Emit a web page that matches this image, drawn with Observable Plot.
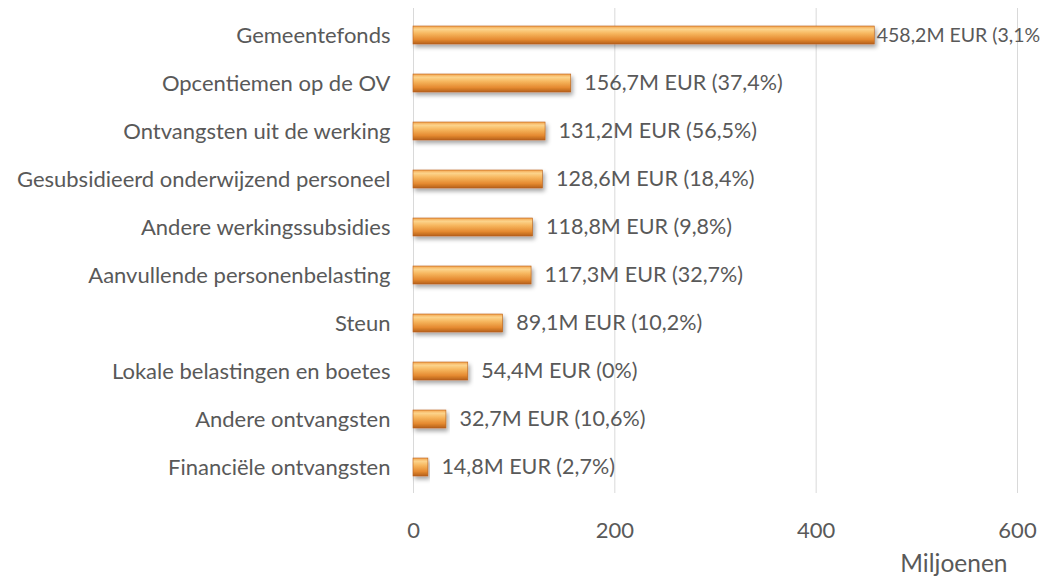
<!DOCTYPE html>
<html>
<head>
<meta charset="utf-8">
<script src="https://cdn.jsdelivr.net/npm/d3@7"></script>
<script src="https://cdn.jsdelivr.net/npm/@observablehq/plot@0.6"></script>
<style>
  html, body { margin: 0; padding: 0; background: #fff; }
  #chart { width: 1040px; height: 580px; overflow: hidden; }
</style>
</head>
<body>
<div id="chart"></div>
<script>
const categories = [
  "Gemeentefonds",
  "Opcentiemen op de OV",
  "Ontvangsten uit de werking",
  "Gesubsidieerd onderwijzend personeel",
  "Andere werkingssubsidies",
  "Aanvullende personenbelasting",
  "Steun",
  "Lokale belastingen en boetes",
  "Andere ontvangsten",
  "Financiële ontvangsten"
];
const values = [458.2, 156.7, 131.2, 128.6, 118.8, 117.3, 89.1, 54.4, 32.7, 14.8];
const labels = [
  "458,2M EUR (3,1%",
  "156,7M EUR (37,4%)",
  "131,2M EUR (56,5%)",
  "128,6M EUR (18,4%)",
  "118,8M EUR (9,8%)",
  "117,3M EUR (32,7%)",
  "89,1M EUR (10,2%)",
  "54,4M EUR (0%)",
  "32,7M EUR (10,6%)",
  "14,8M EUR (2,7%)"
];
const xTicks = [0, 200, 400, 600];
const xUnit = "Miljoenen";

const data = categories.map((c, i) => ({cat: c, value: values[i], label: labels[i], big: i === 0}));

const font = "Lato, 'Open Sans', sans-serif";
const textColor = "#595959";

const chart = Plot.plot({
  width: 1040,
  height: 580,
  marginLeft: 413,
  marginRight: 23,
  marginTop: 8,
  marginBottom: 87,
  style: {fontFamily: font, color: textColor, background: "white"},
  x: {domain: [0, 600], ticks: xTicks, label: null},
  y: {domain: categories, label: null, paddingInner: 0.63, paddingOuter: 0.3},
  marks: [
    Plot.gridX(xTicks, {stroke: "#d9d9d9", strokeOpacity: 1, strokeWidth: 1}),
    Plot.barX(data, {y: "cat", x: "value", fill: "url(#barGrad)", stroke: "#b8601a", strokeWidth: 0.6}),
    Plot.text(data.filter(d => !d.big), {y: "cat", x: "value", text: "label", textAnchor: "start", dx: 13, fontSize: 21.5, fill: textColor}),
    Plot.text(data.filter(d => d.big), {y: "cat", x: "value", text: "label", textAnchor: "start", dx: 2, fontSize: 19.5, fill: textColor}),
    Plot.axisY({tickSize: 0, tickPadding: 23, fontSize: 22, label: null}),
    Plot.axisX({ticks: xTicks, tickSize: 0, tickPadding: 29, fontSize: 22, label: null}),
    Plot.text([xUnit], {frameAnchor: "bottom-right", text: d => d, dx: -10, dy: 71, textAnchor: "end", lineAnchor: "middle", fontSize: 24.5, fill: textColor})
  ]
});

const svg = d3.select(chart);
const defs = svg.insert("defs", ":first-child");
const g = defs.append("linearGradient").attr("id", "barGrad").attr("x1", 0).attr("y1", 0).attr("x2", 0).attr("y2", 1);
[["0%", "#f3a24a"], ["18%", "#fcd48c"], ["40%", "#f7b860"], ["75%", "#e58a30"], ["100%", "#b5601c"]]
  .forEach(([o, c]) => g.append("stop").attr("offset", o).attr("stop-color", c));
const f = defs.append("filter").attr("id", "shadow").attr("x", "-5%").attr("y", "-50%").attr("width", "115%").attr("height", "250%");
f.append("feDropShadow").attr("dx", 2).attr("dy", 3).attr("stdDeviation", 2).attr("flood-color", "#000").attr("flood-opacity", 0.35);
svg.selectAll("rect").filter(function() { return this.getAttribute("fill") === "url(#barGrad)" || (this.parentNode && this.parentNode.getAttribute("fill") === "url(#barGrad)"); })
  .attr("filter", "url(#shadow)");

document.getElementById("chart").appendChild(chart);
</script>
</body>
</html>
